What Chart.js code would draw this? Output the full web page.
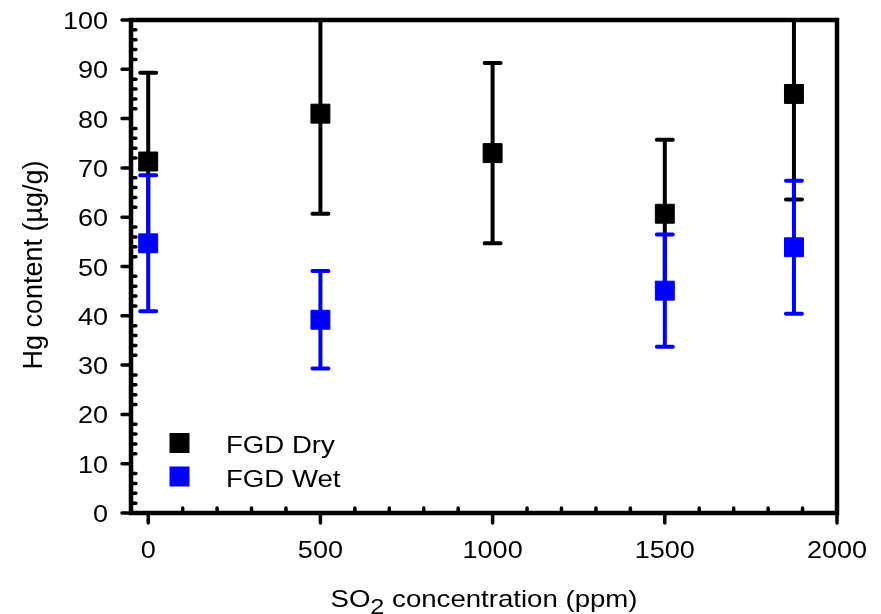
<!DOCTYPE html>
<html>
<head>
<meta charset="utf-8">
<script src="https://cdn.jsdelivr.net/npm/chart.js@4.4.0/dist/chart.umd.min.js"></script>
<style>
  html, body { margin: 0; padding: 0; background: #fff; }
</style>
</head>
<body>
<canvas id="c" width="881" height="614"></canvas>
<script>
// axis ticks
const xTicks = [0, 500, 1000, 1500, 2000];
const yTicks = [0, 10, 20, 30, 40, 50, 60, 70, 80, 90, 100];

// FGD Dry (mean +/- error)
const dryX = [0, 500, 1000, 1500, 1875];
const dryY = [71.3, 81.0, 73.0, 60.7, 85.0];
const dryErr = [18.0, 20.3, 18.3, 15.0, 21.4];

// FGD Wet
const wetX = [0, 500, 1500, 1875];
const wetY = [54.7, 39.2, 45.1, 53.9];
const wetErr = [13.8, 9.9, 11.4, 13.5];

const seriesNames = ['FGD Dry', 'FGD Wet'];
const colors = ['#000000', '#0000ff'];

const FONT = "'Liberation Sans', Arial, sans-serif";
const STRETCH = 1.15;

// text with a bit of horizontal stretch, like the original
function wideText(ctx, txt, x, y, size, align) {
  ctx.save();
  ctx.font = size + 'px ' + FONT;
  ctx.textAlign = align;
  ctx.textBaseline = 'alphabetic';
  ctx.translate(x, y);
  ctx.scale(STRETCH, 1);
  ctx.fillText(txt, 0, 0);
  ctx.restore();
}

const deco = {
  id: 'deco',
  beforeDatasetsDraw(chart) {
    const { ctx, chartArea: a, scales: { x, y } } = chart;
    ctx.save();
    ctx.beginPath();
    ctx.rect(a.left, a.top, a.right - a.left, a.bottom - a.top);
    ctx.clip();
    ctx.lineWidth = 4;
    ctx.lineCap = 'round';
    const sets = [[dryX, dryY, dryErr, colors[0]], [wetX, wetY, wetErr, colors[1]]];
    sets.forEach(([xs, ys, es, col]) => {
      ctx.strokeStyle = col;
      xs.forEach((v, i) => {
        const px = x.getPixelForValue(v);
        const top = y.getPixelForValue(ys[i] + es[i]);
        const bot = y.getPixelForValue(ys[i] - es[i]);
        ctx.beginPath();
        ctx.moveTo(px, top); ctx.lineTo(px, bot);
        ctx.moveTo(px - 8, top); ctx.lineTo(px + 8, top);
        ctx.moveTo(px - 8, bot); ctx.lineTo(px + 8, bot);
        ctx.stroke();
      });
    });
    ctx.restore();
  },
  afterDraw(chart) {
    const { ctx, chartArea: a, scales: { x, y } } = chart;
    ctx.save();
    ctx.strokeStyle = '#000';
    ctx.fillStyle = '#000';

    // frame
    ctx.lineWidth = 4.5;
    ctx.strokeRect(a.left, a.top, a.right - a.left, a.bottom - a.top);

    // ticks
    ctx.lineWidth = 3.5;
    ctx.lineCap = 'round';
    ctx.beginPath();
    yTicks.forEach(v => {
      const py = y.getPixelForValue(v);
      ctx.moveTo(a.left - 9, py); ctx.lineTo(a.left, py);
    });
    for (let v = 2; v < 100; v += 2) {
      if (v % 10 === 0) continue;
      const py = y.getPixelForValue(v);
      ctx.moveTo(a.left, py); ctx.lineTo(a.left + 5, py);
    }
    xTicks.forEach(v => {
      const px = x.getPixelForValue(v);
      ctx.moveTo(px, a.bottom); ctx.lineTo(px, a.bottom + 10);
    });
    for (let v = 100; v < 2000; v += 100) {
      if (v % 500 === 0) continue;
      const px = x.getPixelForValue(v);
      ctx.moveTo(px, a.bottom - 5); ctx.lineTo(px, a.bottom);
    }
    ctx.stroke();

    // tick labels
    y.ticks.forEach(t => {
      wideText(ctx, String(t.value), a.left - 23, y.getPixelForValue(t.value) + 9, 23.5, 'right');
    });
    x.ticks.forEach(t => {
      wideText(ctx, String(t.value), x.getPixelForValue(t.value), 558, 23.5, 'center');
    });

    // x title with subscript
    ctx.font = '24px ' + FONT;
    const wSO = ctx.measureText('SO').width;
    const wRest = ctx.measureText(' concentration (ppm)').width;
    ctx.font = '22px ' + FONT;
    const w2 = ctx.measureText('2').width;
    const total = (wSO + w2 + wRest) * STRETCH;
    let sx = 484 - total / 2;
    wideText(ctx, 'SO', sx, 607, 24, 'left');
    sx += wSO * STRETCH;
    wideText(ctx, '2', sx, 614, 22, 'left');
    sx += w2 * STRETCH;
    wideText(ctx, ' concentration (ppm)', sx, 607, 24, 'left');

    // y title
    ctx.save();
    ctx.translate(42, 265);
    ctx.rotate(-Math.PI / 2);
    ctx.font = '27px ' + FONT;
    ctx.textAlign = 'center';
    ctx.textBaseline = 'alphabetic';
    ctx.fillText('Hg content (\u00b5g/g)', 0, 0);
    ctx.restore();

    // legend
    const legY = [443, 476.5];
    seriesNames.forEach((name, i) => {
      ctx.fillStyle = colors[i];
      ctx.fillRect(169.5, legY[i] - 10, 20, 20);
      ctx.fillStyle = '#000';
      wideText(ctx, name, 226, legY[i] + 10, 24, 'left');
    });

    ctx.restore();
  }
};

new Chart(document.getElementById('c'), {
  type: 'scatter',
  data: {
    datasets: [
      {
        label: seriesNames[0],
        data: dryX.map((v, i) => ({ x: v, y: dryY[i] })),
        backgroundColor: colors[0],
        borderColor: colors[0]
      },
      {
        label: seriesNames[1],
        data: wetX.map((v, i) => ({ x: v, y: wetY[i] })),
        backgroundColor: colors[1],
        borderColor: colors[1]
      }
    ]
  },
  options: {
    responsive: false,
    animation: false,
    devicePixelRatio: 1,
    layout: { padding: { left: 0, top: 20, right: 44, bottom: 0 } },
    elements: {
      point: { pointStyle: 'rect', radius: 13.4, borderWidth: 1, hoverRadius: 13.4 }
    },
    plugins: {
      legend: { display: false },
      tooltip: { enabled: false }
    },
    scales: {
      x: {
        type: 'linear',
        min: -50,
        max: 2000,
        afterBuildTicks: s => { s.ticks = xTicks.map(v => ({ value: v })); },
        afterFit: s => { s.height = 101; },
        grid: { display: false, drawTicks: false },
        border: { display: false },
        ticks: { display: false }
      },
      y: {
        min: 0,
        max: 100,
        afterBuildTicks: s => { s.ticks = yTicks.map(v => ({ value: v })); },
        afterFit: s => { s.width = 131; },
        grid: { display: false, drawTicks: false },
        border: { display: false },
        ticks: { display: false }
      }
    }
  },
  plugins: [deco]
});
</script>
</body>
</html>
